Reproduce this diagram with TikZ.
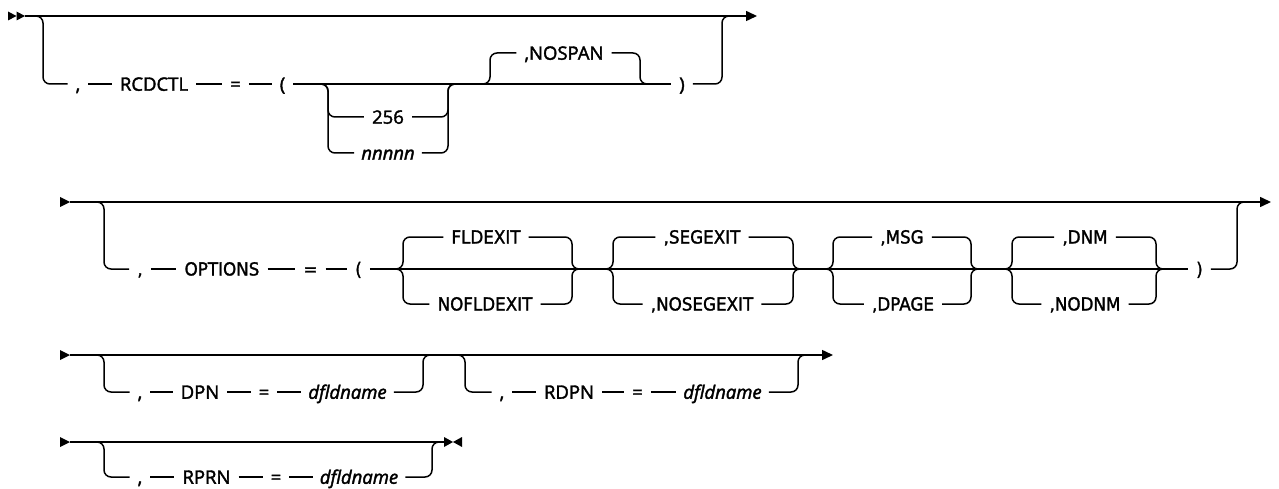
\documentclass[tikz,border=0pt]{standalone}
\usepackage{fontspec}
\setmainfont{Open Sans}[FakeBold=2.0]
\newfontfamily\rowtwofont{DejaVu Sans}[FakeBold=1.6, FakeStretch=0.93]
\usetikzlibrary{arrows.meta}
\begin{document}
\begin{tikzpicture}[x=1pt,y=-1pt,
  rail/.style={line width=1.5pt, rounded corners=7pt},
  lbl/.style={inner xsep=8pt, inner ysep=0pt, text height=13.5pt, text depth=0pt, font=\fontsize{18.5}{21}\selectfont},
  ital/.style={inner xsep=7pt, inner ysep=0pt, text height=13.5pt, text depth=0pt, font=\itshape\fontsize{18.5}{21}\selectfont},
  lbltwo/.style={inner xsep=8pt, inner ysep=0pt, text height=13pt, text depth=0pt, font=\rowtwofont\fontsize{18}{21}\selectfont},
  endarrow/.style={-{Triangle[length=11pt,width=10pt]}},
  tip/.style={fill=black}]
\fill[white] (0,0) rectangle (1279,489);
\useasboundingbox (0,0) rectangle (1279,489);

% ---------- Row 1 ----------
\fill[tip] (8,11.5) -- (16.5,16) -- (8,20.5) -- cycle;
\fill[tip] (16.5,11.5) -- (25,16) -- (16.5,20.5) -- cycle;
\coordinate (r1s) at (25,16);
\coordinate (r1e) at (757,16);
\draw[rail,endarrow] (r1s) -- (r1e);

\node[lbl] (c1) at (78,84) {,};
\node[lbl] (rcd) at (154,84) {RCDCTL};
\node[lbl] (eq1) at (235.5,84) {=};
\node[lbl] (lp1) at (282.5,84) {(};
\node[lbl] (n256) at (388,117) {256};
\node[ital] (nnn) at (388,153) {nnnnn};
\node[lbl] (nosp) at (564,53) {,NOSPAN};
\node[lbl] (rp1) at (682,84) {)};

\coordinate (b1in) at (35,16);
\coordinate (b1out) at (730,16);
\draw[rail] (b1in) -- (43,16) -- (43,84) -- (c1);
\draw[rail] (c1) -- (rcd);
\draw[rail] (rcd) -- (eq1);
\draw[rail] (eq1) -- (lp1);
\draw[rail] (lp1) -- (rp1);
\draw[rail] (rp1) -- (722,84) -- (722,16) -- (b1out);

\coordinate (ch1in) at (320,84);
\coordinate (ch1out) at (456,84);
\draw[rail] (ch1in) -- (328,84) -- (328,117) -- (n256);
\draw[rail] (ch1in) -- (328,84) -- (328,153) -- (nnn);
\draw[rail] (n256) -- (448,117) -- (448,84) -- (ch1out);
\draw[rail] (nnn) -- (448,153) -- (448,84) -- (ch1out);

\coordinate (nsin) at (482,84);
\coordinate (nsout) at (648,84);
\draw[rail] (nsin) -- (490,84) -- (490,53) -- (nosp);
\draw[rail] (nosp) -- (640,53) -- (640,84) -- (nsout);

% ---------- Row 2 ----------
\fill[tip] (60,197) -- (70,202) -- (60,207) -- cycle;
\coordinate (r2s) at (70,202);
\coordinate (r2e) at (1271,202);
\draw[rail,endarrow] (r2s) -- (r2e);

\node[lbltwo] (c2) at (140,269) {,};
\node[lbltwo] (opt) at (222,269) {OPTIONS};
\node[lbltwo] (eq2) at (310.5,269) {=};
\node[lbltwo] (lp2) at (358.5,269) {(};
\node[lbltwo] (fld) at (486,237) {FLDEXIT};
\node[lbltwo] (nofld) at (485,304) {NOFLDEXIT};
\node[lbltwo] (seg) at (702,237) {,SEGEXIT};
\node[lbltwo] (noseg) at (702,304) {,NOSEGEXIT};
\node[lbltwo] (msg) at (902,237) {,MSG};
\node[lbltwo] (dpage) at (903,304) {,DPAGE};
\node[lbltwo] (dnm) at (1085,237) {,DNM};
\node[lbltwo] (nodnm) at (1085,304) {,NODNM};
\node[lbltwo] (rp2) at (1199.5,269) {)};

\coordinate (b2in) at (97,202);
\coordinate (b2out) at (1245,202);
\draw[rail] (b2in) -- (104,202) -- (104,269) -- (c2);
\draw[rail] (c2) -- (opt);
\draw[rail] (opt) -- (eq2);
\draw[rail] (eq2) -- (lp2);
\draw[rail] (lp2) -- (rp2);
\draw[rail] (rp2) -- (1237,269) -- (1237,202) -- (b2out);

\foreach \t/\b/\xl/\xr in {fld/nofld/403/572, seg/noseg/613/793, msg/dpage/833/971, dnm/nodnm/1012/1156}{
  \draw[rail] (\xl-8,269) -- (\xl,269) -- (\xl,237) -- (\t);
  \draw[rail] (\xl-8,269) -- (\xl,269) -- (\xl,304) -- (\b);
  \draw[rail] (\t) -- (\xr,237) -- (\xr,269) -- (\xr+8,269);
  \draw[rail] (\b) -- (\xr,304) -- (\xr,269) -- (\xr+8,269);
}

% ---------- Row 3 ----------
\fill[tip] (60,350) -- (70,355) -- (60,360) -- cycle;
\coordinate (r3s) at (70,355);
\coordinate (r3e) at (833,355);
\draw[rail,endarrow] (r3s) -- (r3e);

\node[lbl] (c3) at (140,392) {,};
\node[lbl] (dpn) at (200,392) {DPN};
\node[lbl] (eq3) at (264,392) {=};
\node[ital] (dfl3) at (347.5,392) {dfldname};
\node[lbl] (c4) at (502,392) {,};
\node[lbl] (rdpn) at (569,392) {RDPN};
\node[lbl] (eq4) at (637.5,392) {=};
\node[ital] (dfl4) at (722.5,392) {dfldname};

\coordinate (b3in) at (97,355);
\coordinate (b3out) at (431,355);
\draw[rail] (b3in) -- (104,355) -- (104,392) -- (c3);
\draw[rail] (c3) -- (dpn);
\draw[rail] (dpn) -- (eq3);
\draw[rail] (eq3) -- (dfl3);
\draw[rail] (dfl3) -- (423,392) -- (423,355) -- (b3out);

\coordinate (b4in) at (457,355);
\coordinate (b4out) at (806,355);
\draw[rail] (b4in) -- (465,355) -- (465,392) -- (c4);
\draw[rail] (c4) -- (rdpn);
\draw[rail] (rdpn) -- (eq4);
\draw[rail] (eq4) -- (dfl4);
\draw[rail] (dfl4) -- (798,392) -- (798,355) -- (b4out);

% ---------- Row 4 ----------
\fill[tip] (60,437) -- (70,442) -- (60,447) -- cycle;
\coordinate (r4s) at (70,442);
\coordinate (r4e) at (444,442);
\draw[rail] (r4s) -- (r4e);
\fill[tip] (444,437) -- (453,442) -- (444,447) -- cycle;
\fill[tip] (462,437) -- (453,442) -- (462,447) -- cycle;

\node[lbl] (c5) at (140,477) {,};
\node[lbl] (rprn) at (206.5,477) {RPRN};
\node[lbl] (eq5) at (276,477) {=};
\node[ital] (dfl5) at (359,477) {dfldname};

\coordinate (b5in) at (97,442);
\coordinate (b5out) at (440,442);
\draw[rail] (b5in) -- (104,442) -- (104,477) -- (c5);
\draw[rail] (c5) -- (rprn);
\draw[rail] (rprn) -- (eq5);
\draw[rail] (eq5) -- (dfl5);
\draw[rail] (dfl5) -- (432,477) -- (432,442) -- (b5out);
\end{tikzpicture}
\end{document}
